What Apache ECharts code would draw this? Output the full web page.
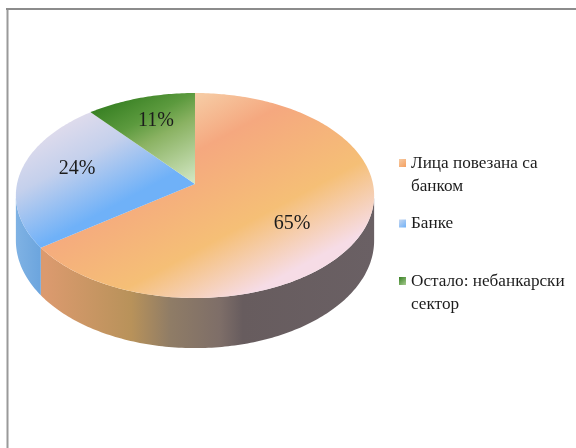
<!DOCTYPE html>
<html><head><meta charset="utf-8">
<style>html,body{margin:0;padding:0;background:#fff}#c{width:576px;height:448px}</style>
<script src="https://cdn.jsdelivr.net/npm/echarts@6/dist/echarts.min.js"></script>
</head><body><div id="c"></div>
<script>
const categories = ['Лица повезана са\nбанком', 'Банке', 'Остало: небанкарски\nсектор'];
const shares = [65, 24, 11];
const tickLabels = ['65%', '24%', '11%'];

const CX = 195, CY = 184, R = 178, S = 101.2, K = 0.1122, DEPTH = 44.5;
const SERIF = '"Liberation Serif","Times New Roman",serif';
const LG = (x, y, x2, y2, stops) => new echarts.graphic.LinearGradient(x, y, x2, y2,
  stops.map(s => ({offset: s[0], color: s[1]})), true);
const topFill = [
  LG(85, 156, 186, 343, [[0, '#F6CBA4'], [.23, '#F5A87F'], [.64, '#F5BF76'], [.94, '#F6DCE6'], [1, '#F6DCE6']]),
  LG(67, 123, 112, 207, [[0, '#DEDBEC'], [.4, '#C4D0EC'], [1, '#6FB1F8']]),
  LG(67, 123, 119, 220, [[0, '#367F22'], [.3, '#5C9A3E'], [.5, '#8AB262'], [1, '#D0E5C0']])
];
const sideFill = [
  LG(46, 0, 374, 0, [[0, '#DB9A6E'], [.26, '#B8925A'], [.38, '#8F7C66'], [.53, '#7E6E68'], [.6, '#675C5E'], [1, '#6A6064']]),
  LG(16, 0, 46, 0, [[0, '#7FB2E4'], [1, '#68A2DC']])
];
const legendFill = [
  new echarts.graphic.LinearGradient(0, 0, 1, 1, [{offset: 0, color: '#F6CBA4'}, {offset: 1, color: '#F5A060'}]),
  new echarts.graphic.LinearGradient(0, 0, 1, 1, [{offset: 0, color: '#C8D8F0'}, {offset: 1, color: '#6FB1F8'}]),
  new echarts.graphic.LinearGradient(0, 0, 1, 1, [{offset: 0, color: '#367F22'}, {offset: 1, color: '#A8CC90'}])
];
const labelAt = [[292, 224], [77, 169], [156, 121]];
const legendTop = [151.5, 212, 269.5];

function proj(theta, depth) {
  const w = 1 + K * Math.cos(theta);
  return [CX + R * Math.sin(theta) / w, CY - S * Math.cos(theta) / w + (depth || 0) / w];
}
const total = shares.reduce((a, b) => a + b, 0);
const VIS0 = Math.acos(-K), VIS1 = 2 * Math.PI - VIS0;

function arcPoints(a, b, depth) {
  const n = Math.max(2, Math.ceil(Math.abs(b - a) * 60)), pts = [];
  for (let i = 0; i <= n; i++) pts.push(proj(a + (b - a) * i / n, depth));
  return pts;
}

function seriesFor(i) {
  const before = shares.slice(0, i).reduce((a, b) => a + b, 0);
  return {
    type: 'custom', name: categories[i], coordinateSystem: 'none', silent: true,
    data: [shares[i]], animation: false,
    renderItem: function (params, api) {
      const v = api.value(0);
      const a = before / total * 2 * Math.PI, b = (before + v) / total * 2 * Math.PI;
      const children = [];
      const sa = Math.max(a, VIS0), sb = Math.min(b, VIS1);
      if (sb > sa) {
        const pts = arcPoints(sa, sb, 0).concat(arcPoints(sb, sa, DEPTH));
        children.push({type: 'polygon', shape: {points: pts}, style: {fill: sideFill[i], stroke: null}});
      }
      children.push({type: 'polygon', shape: {points: [[CX, CY]].concat(arcPoints(a, b, 0))},
        style: {fill: topFill[i], stroke: null}});
      children.push({type: 'text', style: {x: labelAt[i][0], y: labelAt[i][1], text: tickLabels[i],
        font: '20px ' + SERIF, fill: '#1c1c1c', align: 'center', verticalAlign: 'middle'}});
      return {type: 'group', children: children};
    }
  };
}

const chart = echarts.init(document.getElementById('c'), null, {renderer: 'canvas'});
chart.setOption({
  animation: false,
  backgroundColor: '#fff',
  legend: categories.map((name, i) => ({
    left: 399, top: legendTop[i], orient: 'vertical', selectedMode: false, padding: 0,
    itemWidth: 7, itemHeight: 8, itemGap: 0,
    formatter: n => n.split('\n').map(s => '{t|' + s + '}').join('\n'),
    textStyle: {padding: name.includes('\n') ? [23, 0, 0, 0] : 0,
      rich: {t: {fontFamily: SERIF, fontSize: 17.2, color: '#1c1c1c', lineHeight: 23, height: 23}}},
    data: [{name: name, icon: 'rect', itemStyle: {color: legendFill[i], borderWidth: 0}}]
  })),
  series: shares.map((_, i) => seriesFor(i)),
  graphic: [
    {type: 'line', silent: true, shape: {x1: 7.5, y1: 8, x2: 7.5, y2: 448}, style: {stroke: '#9a9a9a', lineWidth: 2}},
    {type: 'line', silent: true, shape: {x1: 6, y1: 9, x2: 576, y2: 9}, style: {stroke: '#8c8c8c', lineWidth: 2}}
  ]
});
</script></body></html>
